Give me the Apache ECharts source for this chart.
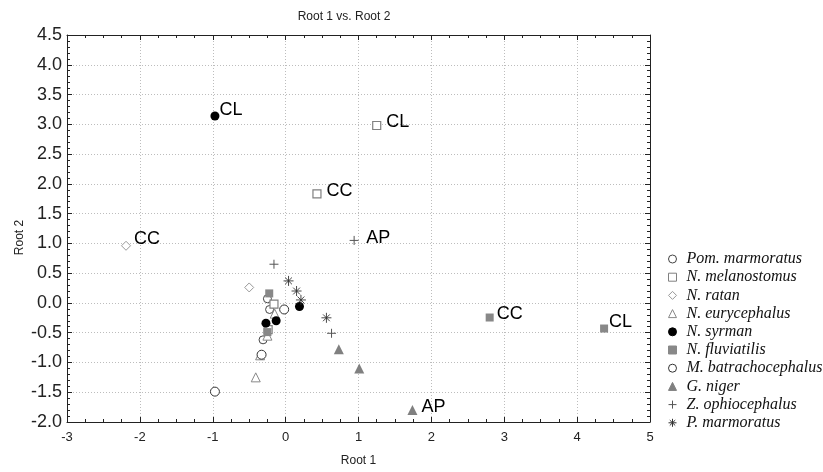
<!DOCTYPE html>
<html>
<head>
<meta charset="utf-8">
<script src="https://cdn.jsdelivr.net/npm/echarts@6/dist/echarts.min.js"></script>
<style>html,body{margin:0;padding:0;background:#fff}#c{width:823px;height:472px}</style>
</head>
<body>
<div id="c"></div>
<script>
// ---- data ----
const seriesNames = ['Pom. marmoratus','N. melanostomus','N. ratan','N. eurycephalus','N. syrman','N. fluviatilis','M. batrachocephalus','G. niger','Z. ophiocephalus','P. marmoratus'];
const pomMarmoratus = [[-0.25,0.07],[-0.22,-0.11],[-0.31,-0.62]];
const pomMarmoratusLabels = ['','',''];
const nMelanostomus = [[1.25,2.98],[0.43,1.83],[-0.16,-0.02],[-0.24,-0.45]];
const nMelanostomusLabels = ['CL','CC','',''];
const nRatan = [[-2.19,0.96],[-0.50,0.26]];
const nRatanLabels = ['CC',''];
const nEurycephalus = [[-0.15,-0.18],[-0.25,-0.55],[-0.35,-0.88],[-0.41,-1.25]];
const nEurycephalusLabels = ['','','',''];
const nSyrman = [[-0.97,3.14],[-0.27,-0.34],[-0.13,-0.30],[0.19,-0.06]];
const nSyrmanLabels = ['CL','','',''];
const nFluviatilis = [[2.80,-0.245],[4.37,-0.43],[-0.225,0.16],[-0.25,-0.49]];
const nFluviatilisLabels = ['CC','CL','',''];
const mBatrachocephalus = [[-0.02,-0.11],[-0.33,-0.87],[-0.97,-1.49]];
const mBatrachocephalusLabels = ['','',''];
const gNiger = [[1.74,-1.80],[1.01,-1.10],[0.73,-0.78]];
const gNigerLabels = ['AP','',''];
const zOphiocephalus = [[0.94,1.05],[-0.16,0.65],[0.63,-0.51]];
const zOphiocephalusLabels = ['AP','',''];
const pMarmoratus = [[0.04,0.37],[0.15,0.20],[0.21,0.05],[0.56,-0.25]];
const pMarmoratusLabels = ['','','',''];
const xTicks = {min:-3, max:5, interval:1};
const yTicks = {min:-2, max:4.5, interval:0.5};

// ---- styles ----
// label pixel offsets (style only), keyed "seriesIndex-pointIndex"
const labelOffsets = {
  '1-0':[5,-3], '1-1':[5,-3], '2-0':[3,-7], '4-0':[0,-6],
  '5-0':[3,-3], '5-1':[1,-6], '7-0':[4,-3], '8-0':[5,-2]
};
const plusPath = 'path://M0,5L10,5M5,0L5,10';
const starPath = 'path://M0,5L10,5M5,0L5,10M1.6,1.6L8.4,8.4M8.4,1.6L1.6,8.4';
const styles = [
  {symbol:'circle', size:8, fill:'#fff', stroke:'#444', bw:1},
  {symbol:'rect', size:8, fill:'#fff', stroke:'#808080', bw:1.2},
  {symbol:'diamond', size:9, fill:'#fff', stroke:'#999', bw:1},
  {symbol:'triangle', size:9, fill:'#fff', stroke:'#888', bw:1},
  {symbol:'circle', size:9, fill:'#000', stroke:'#000', bw:0},
  {symbol:'rect', size:8, fill:'#888', stroke:'#888', bw:0},
  {symbol:'circle', size:9, fill:'#fff', stroke:'#333', bw:1},
  {symbol:'triangle', size:10, fill:'#808080', stroke:'#808080', bw:0},
  {symbol:plusPath, size:9, fill:'none', stroke:'#555', bw:1},
  {symbol:starPath, size:10, fill:'none', stroke:'#333', bw:0.9}
];
const datasets = [pomMarmoratus,nMelanostomus,nRatan,nEurycephalus,nSyrman,nFluviatilis,mBatrachocephalus,gNiger,zOphiocephalus,pMarmoratus];
const labelSets = [pomMarmoratusLabels,nMelanostomusLabels,nRatanLabels,nEurycephalusLabels,nSyrmanLabels,nFluviatilisLabels,mBatrachocephalusLabels,gNigerLabels,zOphiocephalusLabels,pMarmoratusLabels];

const series = seriesNames.map((name,i)=>{
  const s = styles[i];
  return {
    name, type:'scatter', symbol:s.symbol, symbolSize:s.size,
    itemStyle:{color:s.fill, borderColor:s.stroke, borderWidth:s.bw, opacity:1},
    emphasis:{disabled:true},
    data: datasets[i].map((p,j)=>({
      value:p,
      label:{show:labelSets[i][j]!=='', formatter:labelSets[i][j], position:'right', distance:0,
        offset: labelOffsets[i+'-'+j] || [0,0],
        fontFamily:'Liberation Sans, Arial', fontSize:18, color:'#000'}
    }))
  };
});

const chart = echarts.init(document.getElementById('c'), null, {renderer:'canvas'});
const gridLine = {show:true, lineStyle:{color:'#bdbdbd', type:[1,2], width:1}};
chart.setOption({
  animation:false,
  backgroundColor:'#fff',
  title:{text:'Root 1 vs. Root 2', left:339, top:6, textAlign:'center',
    textStyle:{fontFamily:'Liberation Sans, Arial', fontSize:12, fontWeight:'normal', color:'#222'}},
  grid:{left:67, top:35, right:173, bottom:49},
  legend:{
    orient:'vertical', left:666, top:251, padding:0, itemWidth:8, itemHeight:8, itemGap:2.2,
    data: seriesNames,
    itemStyle:{borderWidth:1},
    textStyle:{fontFamily:'Liberation Serif, Times New Roman', fontStyle:'italic', fontSize:16, lineHeight:16, color:'#111', padding:[0,0,0,5]},
    selectedMode:false
  },
  xAxis:[{
    type:'value', min:xTicks.min, max:xTicks.max, interval:xTicks.interval,
    name:'Root 1', nameLocation:'middle', nameGap:33,
    nameTextStyle:{fontFamily:'Liberation Sans, Arial', fontSize:12, color:'#222'},
    axisLine:{show:true, onZero:false, lineStyle:{color:'#222', width:1}},
    axisTick:{show:true, inside:true, length:5, lineStyle:{color:'#222'}},
    minorTick:{show:true, splitNumber:4, length:3, lineStyle:{color:'#222'}},
    axisLabel:{fontFamily:'Liberation Sans, Arial', fontSize:13, color:'#222', margin:9},
    splitLine:gridLine
  },{
    type:'value', position:'top', min:xTicks.min, max:xTicks.max, interval:xTicks.interval,
    axisLine:{show:true, onZero:false, lineStyle:{color:'#222', width:1}},
    axisTick:{show:true, inside:true, length:5, lineStyle:{color:'#222'}},
    minorTick:{show:true, splitNumber:4, length:3, lineStyle:{color:'#222'}},
    axisLabel:{show:false}, splitLine:{show:false}
  }],
  yAxis:[{
    type:'value', min:yTicks.min, max:yTicks.max, interval:yTicks.interval,
    name:'Root 2', nameLocation:'middle', nameGap:41, nameRotate:90, nameMoveOverlap:false,
    nameTextStyle:{fontFamily:'Liberation Sans, Arial', fontSize:12, color:'#222', padding:[0,18,0,0]},
    axisLine:{show:true, onZero:false, lineStyle:{color:'#222', width:1}},
    axisTick:{show:true, inside:true, length:5, lineStyle:{color:'#222'}},
    minorTick:{show:true, splitNumber:5, length:3, lineStyle:{color:'#222'}},
    axisLabel:{fontFamily:'Liberation Sans, Arial', fontSize:18, color:'#222', margin:5,
      formatter:v=>v.toFixed(1)},
    splitLine:gridLine
  },{
    type:'value', position:'right', min:yTicks.min, max:yTicks.max, interval:yTicks.interval,
    axisLine:{show:true, onZero:false, lineStyle:{color:'#222', width:1}},
    axisTick:{show:true, inside:true, length:5, lineStyle:{color:'#222'}},
    minorTick:{show:true, splitNumber:5, length:3, lineStyle:{color:'#222'}},
    axisLabel:{show:false}, splitLine:{show:false}
  }],
  series
});
</script>
</body>
</html>
